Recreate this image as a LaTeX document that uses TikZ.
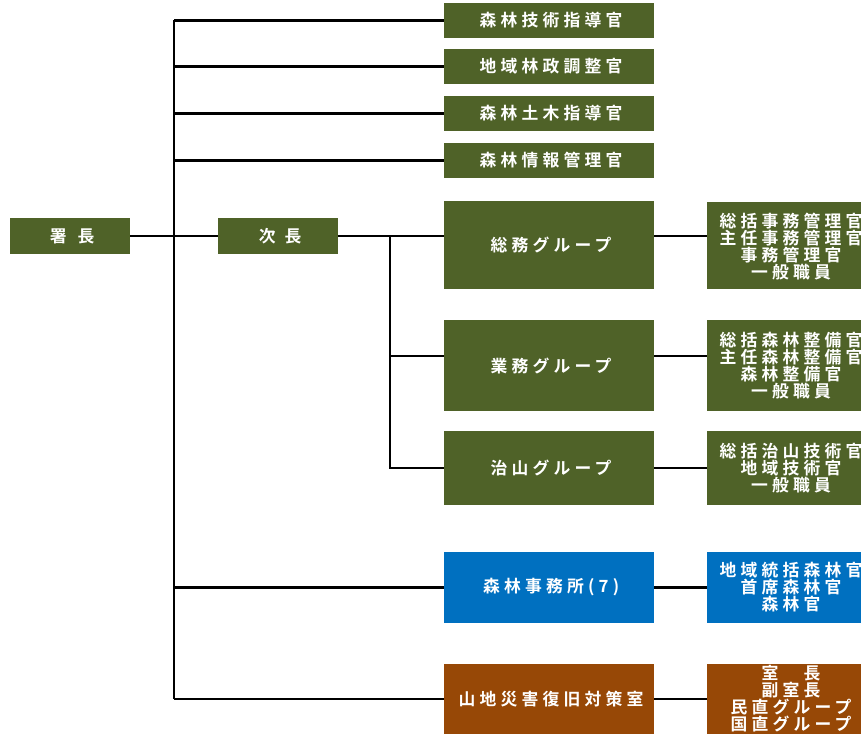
\documentclass[tikz,border=0pt]{standalone}
\usepackage{fontspec}
\newfontfamily\jp[LetterSpace=25]{Noto Sans CJK JP Bold}
\definecolor{olive}{HTML}{4F6228}
\definecolor{blu}{HTML}{0070C0}
\definecolor{brn}{HTML}{974806}
\begin{document}
\begin{tikzpicture}[x=1pt,y=-1pt,
  lbl/.style={text=white,font=\jp\fontsize{16.8}{17}\selectfont,align=center,inner sep=0pt,xshift=2.1pt},
  conn/.style={line width=2.2pt,black}]
\useasboundingbox (0,0) rectangle (861,735);
\clip (0,0) rectangle (861,735);
\newcommand\orgbox[6]{% name, x1,y1,x2,y2, color
  \fill[#6] (#2,#3) rectangle (#4,#5);
  \coordinate (#1-w) at (#2,{(#3+#5)/2});
  \coordinate (#1-e) at (#4,{(#3+#5)/2});
  \coordinate (#1-c) at ({(#2+#4)/2},{(#3+#5)/2});}
\orgbox{chief}{10}{218}{130}{254}{olive}
\orgbox{vice}{218}{218}{338}{254}{olive}
\orgbox{t1}{444}{3}{654}{38}{olive}
\orgbox{t2}{444}{49}{654}{84}{olive}
\orgbox{t3}{444}{96}{654}{131}{olive}
\orgbox{t4}{444}{143}{654}{178}{olive}
\orgbox{g1}{444}{201}{654}{289}{olive}
\orgbox{g2}{444}{320}{654}{411}{olive}
\orgbox{g3}{444}{431}{654}{505}{olive}
\orgbox{g4}{444}{552}{654}{623}{blu}
\orgbox{g5}{444}{664}{654}{734}{brn}
\orgbox{r1}{707}{202}{871}{289}{olive}
\orgbox{r2}{707}{320}{871}{411}{olive}
\orgbox{r3}{707}{431}{871}{505}{olive}
\orgbox{r4}{707}{552}{871}{623}{blu}
\orgbox{r5}{707}{664}{871}{734}{brn}
% labels
\node[lbl] (chiefL) at (chief-c) {署\hspace{11pt}長};
\node[lbl] (viceL) at (vice-c) {次\hspace{9pt}長};
\node[lbl] (t1L) at (t1-c) {森林技術指導官};
\node[lbl] (t2L) at (t2-c) {地域林政調整官};
\node[lbl] (t3L) at (t3-c) {森林土木指導官};
\node[lbl] (t4L) at (t4-c) {森林情報管理官};
\node[lbl] (g1L) at (g1-c) {総務グループ};
\node[lbl] (g2L) at (g2-c) {業務グループ};
\node[lbl] (g3L) at (g3-c) {治山グループ};
\node[lbl] (g4L) at (g4-c) {森林事務所(7)};
\node[lbl] (g5L) at (g5-c) {山地災害復旧対策室};
\node[lbl] (r1L) at ([yshift=-1pt]r1-c) {総括事務管理官\\主任事務管理官\\事務管理官\\一般職員};
\node[lbl] (r2L) at (r2-c) {総括森林整備官\\主任森林整備官\\森林整備官\\一般職員};
\node[lbl] (r3L) at (r3-c) {総括治山技術官\\地域技術官\\一般職員};
\node[lbl] (r4L) at (r4-c) {地域統括森林官\\首席森林官\\森林官};
\node[lbl] (r5L) at (r5-c) {室　長\\副室長\\民直グループ\\国直グループ};
% trunk
\coordinate (trTop) at (174,20.5);
\coordinate (trBot) at (174,699);
\draw[conn] (trTop) -- (trBot);
\draw[conn] (trTop) -- (t1-w);
\draw[conn] (174,66.5) -- (t2-w);
\draw[conn] (174,113.5) -- (t3-w);
\draw[conn] (174,160.5) -- (t4-w);
\draw[conn] (174,587.5) -- (g4-w);
\draw[conn] (trBot) -- (g5-w);
\draw[conn] (chief-e) -- (vice-w);
% vice branch
\coordinate (vb) at (390,236);
\draw[conn] (vice-e) -- (444,236);
\draw[conn] (vb) -- (390,468) -- (g3-w);
\draw[conn] (390,356) -- (444,356);
% right links
\draw[conn] (654,236) -- (707,236);
\draw[conn] (654,356) -- (707,356);
\draw[conn] (g3-e) -- (r3-w);
\draw[conn] (g4-e) -- (r4-w);
\draw[conn] (g5-e) -- (r5-w);
\end{tikzpicture}
\end{document}
